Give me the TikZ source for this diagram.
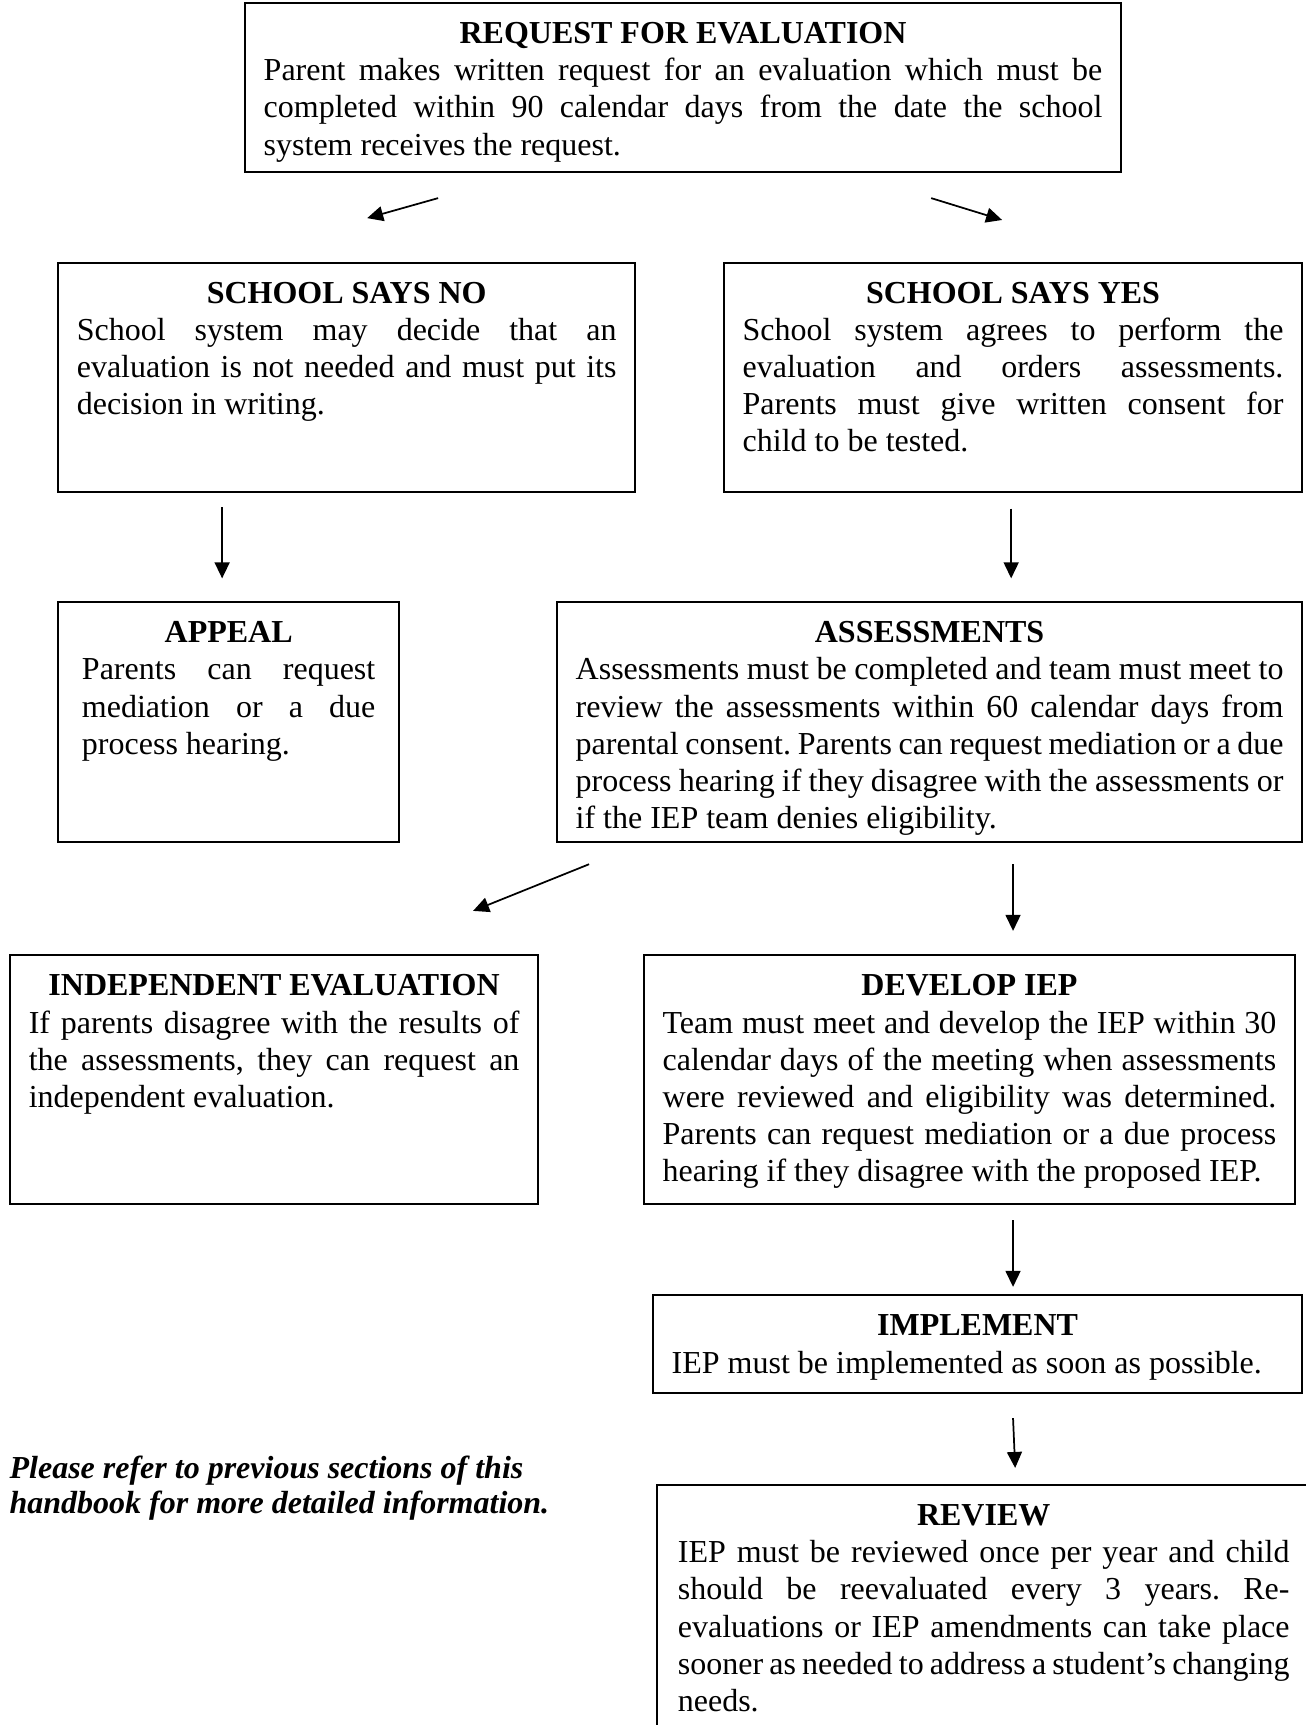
\documentclass[tikz,border=0pt]{standalone}
\usepackage{fontspec}
\setmainfont{Liberation Serif}
\usepackage{tikz}
\usetikzlibrary{arrows.meta,positioning}

\frenchspacing
\newcommand{\boxhead}[1]{{\centering\bfseries #1\par}\noindent\ignorespaces}

\begin{document}
\begin{tikzpicture}[x=1pt, y=-1pt,
    box/.style={draw, line width=0.8pt, anchor=north west, inner xsep=7pt, inner ysep=6pt,
                text height=9.3pt, align=justify, font=\fontsize{12}{13.9}\selectfont},
    arr/.style={-{Triangle[length=6pt,width=5.6pt]}, line width=0.65pt},
    note/.style={anchor=base west, align=left, inner sep=0pt,
                 font=\fontsize{12}{13.1}\selectfont\bfseries\itshape}]
    \useasboundingbox (0,0) rectangle (489.4,646.9);

    % top
    \node [box, text width=314.5pt, text depth=42.1pt] (req) at (91.5,0.75) {\boxhead{REQUEST FOR EVALUATION}
        Parent makes written request for an evaluation which must be\linebreak
        completed within 90 calendar days from the date the school\linebreak
        system receives the request.};

    % school decision
    \node [box, text width=202.4pt, text depth=64.7pt] (no) at (21.4,98.1) {\boxhead{SCHOOL SAYS NO}
        School system may decide that an\linebreak
        evaluation is not needed and must put its\linebreak
        decision in writing.};
    \node [box, text width=202.8pt, text depth=64.7pt] (yes) at (271.1,98.1) {\boxhead{SCHOOL SAYS YES}
        School system agrees to perform the\linebreak
        evaluation and orders assessments.\linebreak
        Parents must give written consent for\linebreak
        child to be tested.};

    \node [box, text width=110pt, minimum width=127.9pt, text depth=68.7pt] (appeal) at (21.4,225.4) {\boxhead{APPEAL}
        Parents can request\linebreak
        mediation or a due\linebreak
        process hearing.};
    \node [box, text width=265.4pt, text depth=68.7pt] (assess) at (208.5,225.4) {\boxhead{ASSESSMENTS}
        Assessments must be completed and team must meet to\linebreak
        review the assessments within 60 calendar days from\linebreak
        parental consent. Parents can request mediation or a due\linebreak
        process hearing if they disagree with the assessments or\linebreak
        if the IEP team denies eligibility.};

    \node [box, text width=184pt, text depth=72.1pt] (indep) at (3.4,357.8) {\boxhead{INDEPENDENT EVALUATION}
        If parents disagree with the results of\linebreak
        the assessments, they can request an\linebreak
        independent evaluation.};
    \node [box, text width=230.1pt, text depth=72.1pt] (iep) at (241.1,357.8) {\boxhead{DEVELOP IEP}
        Team must meet and develop the IEP within 30\linebreak
        calendar days of the meeting when assessments\linebreak
        were reviewed and eligibility was determined.\linebreak
        Parents can request mediation or a due process\linebreak
        hearing if they disagree with the proposed IEP.};

    \node [box, text width=229.4pt, text depth=15.5pt] (impl) at (244.5,485.3) {\boxhead{IMPLEMENT}
        IEP must be implemented as soon as possible.};

    \node [box, text width=229.4pt, minimum width=245pt, text depth=78.7pt] (review) at (246,556.5) {\boxhead{REVIEW}
        IEP must be reviewed once per year and child\linebreak
        should be reevaluated every 3 years. Re-\linebreak
        evaluations or IEP amendments can take place\linebreak
        sooner as needed to address a student’s changing\linebreak
        needs.};

    \node [note] (note) at (3.4,567.6) {Please refer to previous sections of this\\
        handbook for more detailed information.};

    % arrows
    \draw [arr] ([shift={(-91.85,9.35)}]req.south) -- ([shift={(7.7,-16.3)}]no.north);
    \draw [arr] ([shift={(93.05,9.35)}]req.south) -- ([shift={(-4.1,-15.6)}]yes.north);
    \draw [arr] ([shift={(-46.7,5.4)}]no.south) -- ([shift={(-2.45,-8.5)}]appeal.north);
    \draw [arr] ([shift={(-0.7,5.8)}]yes.south) -- ([shift={(30.6,-8.5)}]assess.north);
    \draw [arr] ([shift={(12.4,7.9)}]assess.south west) -- ([shift={(-24.8,-16.2)}]indep.north east);
    \draw [arr] ([shift={(31.3,7.9)}]assess.south) -- ([shift={(16.35,-8.7)}]iep.north);
    \draw [arr] ([shift={(16.35,5.6)}]iep.south) -- ([shift={(13.3,-2.7)}]impl.north);
    \draw [arr] ([shift={(13.3,8.9)}]impl.south) -- ([shift={(11.8,-6)}]review.north);
\end{tikzpicture}
\end{document}
